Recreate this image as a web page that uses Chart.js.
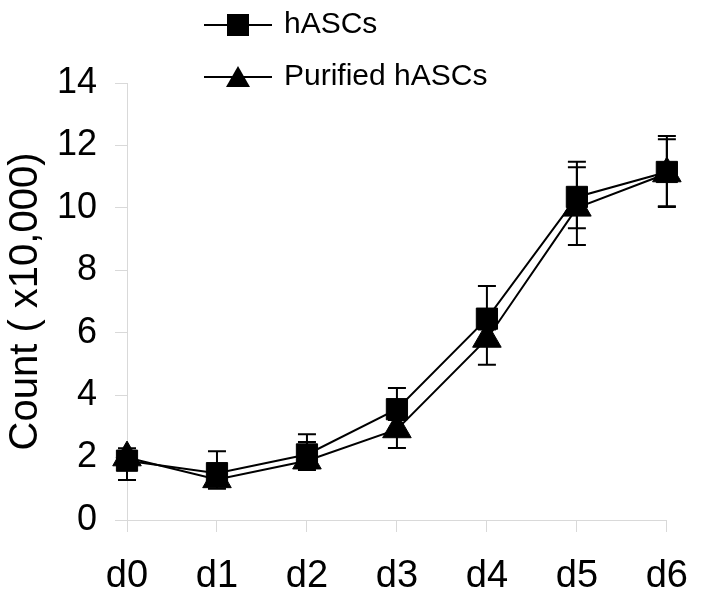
<!DOCTYPE html>
<html>
<head>
<meta charset="utf-8">
<script src="https://cdn.jsdelivr.net/npm/chart.js@4/dist/chart.umd.min.js"></script>
<style>
  html, body { margin: 0; padding: 0; background: #ffffff; }
  #wrap { width: 710px; height: 597px; position: relative; }
</style>
</head>
<body>
<div id="wrap"><canvas id="c" width="710" height="597"></canvas></div>
<script>
// ---- data ----
const categories = ['d0', 'd1', 'd2', 'd3', 'd4', 'd5', 'd6'];
const seriesNames = ['hASCs', 'Purified hASCs'];
const hascs      = [1.9, 1.5, 2.1, 3.55, 6.45, 10.35, 11.15];
const hascsPlus  = [0.3, 0.7, 0.65, 0.68, 1.05, 1.13, 1.15];
const hascsMinus = [0.62, 0.3, 0.3, 0.3, 0.3, 1.0, 1.1];
const purified      = [2.0, 1.3, 1.9, 2.9, 5.8, 10.0, 11.1];
const purifiedPlus  = [0.3, 0.3, 0.6, 0.3, 0.3, 1.3, 1.1];
const purifiedMinus = [0.3, 0.3, 0.3, 0.59, 0.83, 1.19, 1.07];
const yTicks = [0, 2, 4, 6, 8, 10, 12, 14];
const yTitle = 'Count ( x10,000)';

const GRID = '#d9d9d9';
const SANS = "'Liberation Sans', Arial, sans-serif";

function legendIcon(kind) {
  const cv = document.createElement('canvas');
  cv.width = 68; cv.height = 30;
  const g = cv.getContext('2d');
  g.strokeStyle = '#000'; g.lineWidth = 2;
  g.beginPath(); g.moveTo(0, 15); g.lineTo(68, 15); g.stroke();
  g.fillStyle = '#000';
  if (kind === 'square') {
    g.fillRect(23, 4, 22, 22);
  } else {
    g.beginPath(); g.moveTo(34, 4); g.lineTo(46, 25); g.lineTo(22, 25); g.closePath(); g.fill();
  }
  return cv;
}
const icons = [legendIcon('square'), legendIcon('triangle')];
const errs = [[hascsPlus, hascsMinus], [purifiedPlus, purifiedMinus]];

const errorBars = {
  id: 'errorBars',
  beforeDatasetsDraw(chart) {
    const ctx = chart.ctx, y = chart.scales.y;
    ctx.save();
    ctx.strokeStyle = '#000';
    ctx.lineWidth = 2;
    chart.data.datasets.forEach((ds, di) => {
      const meta = chart.getDatasetMeta(di);
      meta.data.forEach((pt, i) => {
        const v = ds.data[i];
        const yTop = y.getPixelForValue(v + errs[di][0][i]);
        const yBot = y.getPixelForValue(v - errs[di][1][i]);
        const x = pt.x;
        ctx.beginPath();
        ctx.moveTo(x, yTop); ctx.lineTo(x, yBot);
        ctx.moveTo(x - 9, yTop); ctx.lineTo(x + 9, yTop);
        ctx.moveTo(x - 9, yBot); ctx.lineTo(x + 9, yBot);
        ctx.stroke();
      });
    });
    ctx.restore();
  }
};

const legendPos = {
  id: 'legendPos',
  afterLayout(chart) {
    const l = chart.legend;
    if (!l) return;
    l.left = 185; l.top = -12; l.right = 650; l.bottom = 250;
    l.width = l.right - l.left; l.height = l.bottom - l.top;
  }
};

new Chart(document.getElementById('c'), {
  type: 'line',
  data: {
    labels: categories,
    datasets: [
      {
        label: seriesNames[0], data: hascs,
        borderColor: '#000', borderWidth: 2, backgroundColor: '#000',
        pointStyle: 'rect', pointRadius: 15, pointBorderWidth: 1,
        pointBackgroundColor: '#000', pointBorderColor: '#000', tension: 0
      },
      {
        label: seriesNames[1], data: purified,
        borderColor: '#000', borderWidth: 2, backgroundColor: '#000',
        pointStyle: 'triangle', pointRadius: 16.5, pointBorderWidth: 1,
        pointBackgroundColor: '#000', pointBorderColor: '#000', tension: 0
      }
    ]
  },
  options: {
    responsive: false,
    animation: false,
    devicePixelRatio: 1,
    layout: { padding: { left: 0, right: 24, top: 83, bottom: 0 } },
    plugins: {
      tooltip: { enabled: false },
      legend: {
        position: 'chartArea',
        align: 'start',
        labels: {
          usePointStyle: true,
          pointStyleWidth: 62,
          padding: 22,
          color: '#000',
          font: { family: SANS, size: 30 },
          generateLabels(chart) {
            return chart.data.datasets.map((ds, i) => ({
              text: ds.label, pointStyle: icons[i], datasetIndex: i,
              hidden: false, fillStyle: '#000', strokeStyle: '#000', lineWidth: 0, fontColor: '#000'
            }));
          }
        }
      }
    },
    scales: {
      x: {
        type: 'category',
        offset: false,
        grid: { display: true, drawOnChartArea: false, drawTicks: true, tickLength: 12, color: GRID, lineWidth: 1 },
        border: { display: true, color: GRID, width: 1 },
        ticks: { color: '#000', font: { family: SANS, size: 38 }, padding: 22, maxRotation: 0, autoSkip: false },
        afterFit(s) { s.height = 77; }
      },
      y: {
        min: 0, max: 14,
        afterBuildTicks(s) { s.ticks = yTicks.map(v => ({ value: v })); },
        grid: { display: true, drawOnChartArea: false, drawTicks: true, tickLength: 12, color: GRID, lineWidth: 1 },
        border: { display: true, color: GRID, width: 1 },
        ticks: { color: '#000', font: { family: SANS, size: 36 }, padding: 18 },
        title: { display: true, text: yTitle, color: '#000', font: { family: SANS, size: 40 }, padding: { top: 2, bottom: 0 } },
        afterFit(s) { s.width = 127; }
      }
    }
  },
  plugins: [errorBars, legendPos]
});
</script>
</body>
</html>
